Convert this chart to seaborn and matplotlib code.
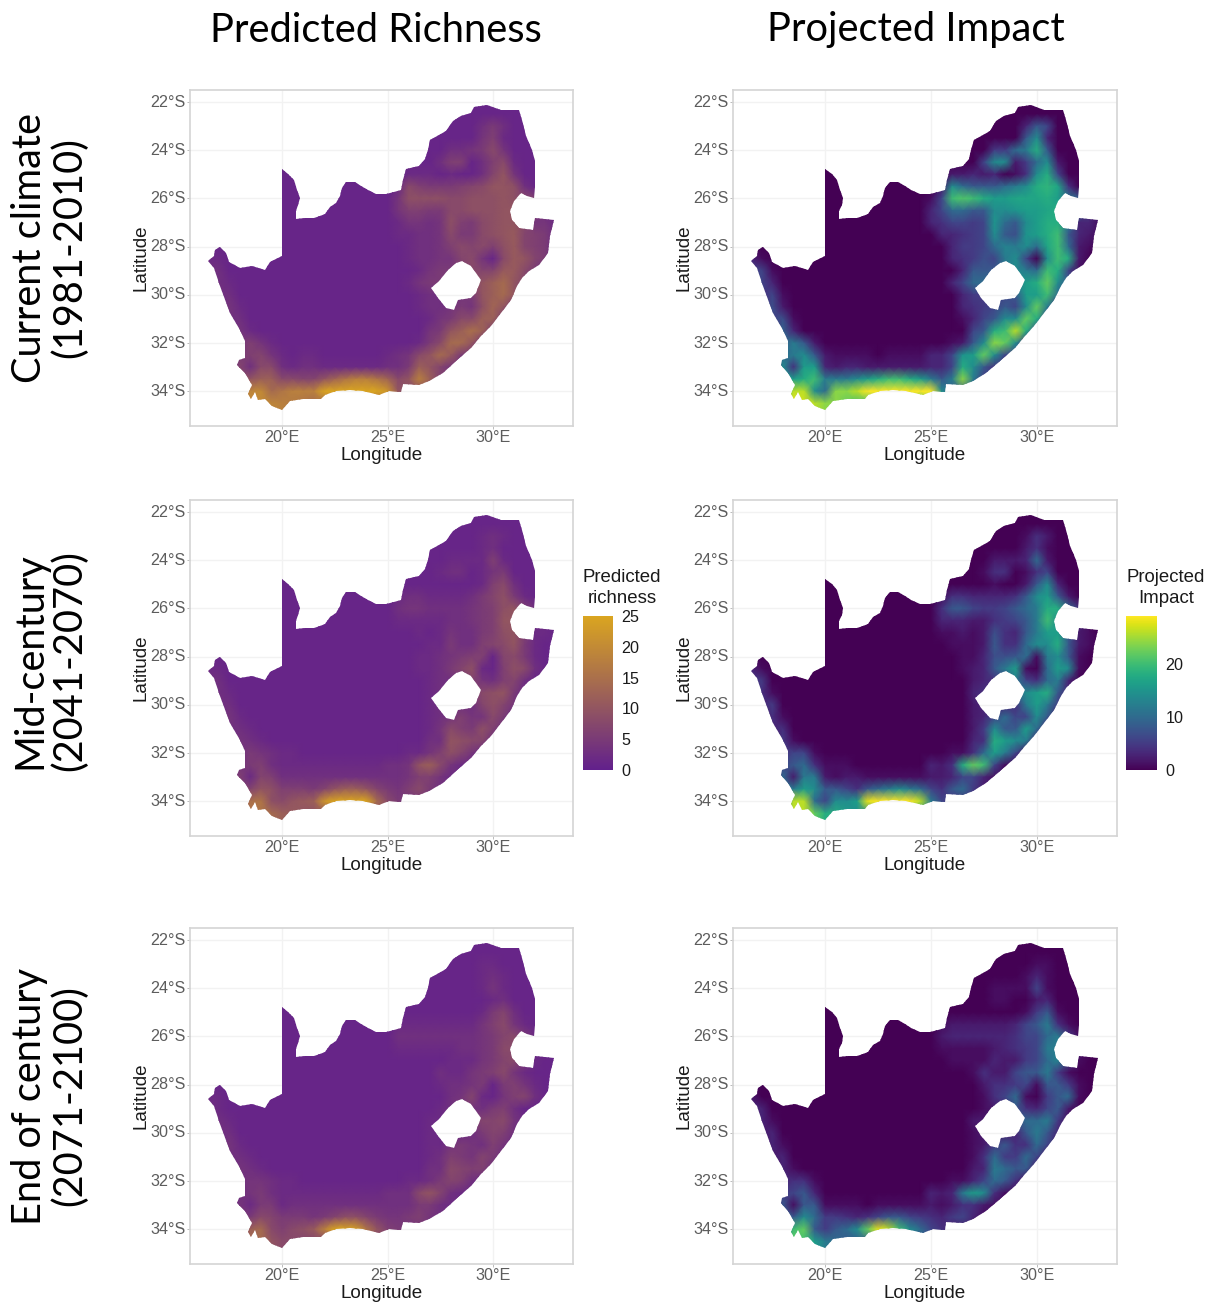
import matplotlib.pyplot as plt
import numpy as np
import pandas as pd
import seaborn as sns
from matplotlib.colors import LinearSegmentedColormap
from matplotlib.path import Path

W, H = 1219, 1303

lon_ticks = [20, 25, 30]
lat_ticks = [22, 24, 26, 28, 30, 32, 34]
grid_lons = [16.5 + 0.5 * i for i in range(34)]
grid_lats = [-22 - 0.5 * i for i in range(27)]

border_lon = [20.00, 20.30, 20.57, 20.72, 20.86, 20.77, 20.66, 20.66, 21.08, 21.51, 21.79, 22.03, 22.26, 22.58, 22.74,
              22.83, 23.05, 23.44, 23.76, 24.07, 24.47, 24.94, 25.33, 25.64, 25.75, 25.88, 26.51, 26.79, 26.90, 27.01,
              27.45, 27.77, 28.08, 28.47, 28.95, 29.10, 29.73, 30.36, 31.23, 31.38, 31.57, 31.86, 31.98, 32.01, 31.93,
              31.62, 31.31, 30.99, 30.80, 30.91, 31.23, 31.89, 32.01, 32.88, 32.72, 32.61, 32.17, 31.70, 31.38, 31.15,
              30.83, 30.36, 29.89, 29.42, 28.95, 28.24, 27.61, 26.98, 26.51, 25.72, 25.64, 25.09, 24.62, 23.84, 23.21,
              22.58, 22.03, 21.87, 21.01, 20.38, 19.98, 19.51, 19.20, 18.88, 18.73, 18.52, 18.40, 18.57, 18.25, 17.89,
              17.94, 18.25, 18.25, 18.02, 17.55, 17.08, 16.76, 16.48, 16.79, 16.84, 17.08, 17.36, 17.47, 18.02, 18.57,
              19.20, 19.43, 20.00]
border_lat = [-24.78, -24.97, -25.25, -25.64, -25.98, -26.26, -26.53, -26.85, -26.80, -26.81, -26.71, -26.63, -26.35,
              -26.19, -25.91, -25.57, -25.32, -25.30, -25.47, -25.66, -25.80, -25.80, -25.75, -25.64, -25.22, -24.78,
              -24.64, -24.36, -23.98, -23.56, -23.35, -23.22, -22.80, -22.57, -22.46, -22.21, -22.12, -22.35, -22.32,
              -22.73, -23.42, -23.98, -24.46, -25.50, -25.98, -25.88, -25.77, -26.12, -26.53, -26.88, -27.22, -27.29,
              -26.81, -26.88, -27.57, -28.26, -28.75, -29.02, -29.30, -29.64, -30.20, -30.75, -31.30, -31.72, -32.20,
              -32.75, -33.24, -33.58, -33.72, -33.68, -34.02, -34.00, -34.16, -34.00, -33.93, -34.00, -34.14, -34.34,
              -34.34, -34.41, -34.79, -34.62, -34.34, -34.37, -34.05, -34.34, -34.10, -33.72, -33.24, -32.89, -32.71,
              -32.62, -31.92, -31.44, -30.75, -29.64, -28.88, -28.61, -28.40, -28.12, -28.03, -28.26, -28.65, -28.88,
              -28.81, -28.95, -28.65, -28.40]
lesotho_lon = [28.55, 28.95, 29.42, 29.18, 28.95, 28.32, 28.16, 27.77, 27.37, 27.06, 27.45, 27.85, 28.24]
lesotho_lat = [-28.61, -28.81, -29.37, -29.92, -30.13, -30.22, -30.64, -30.54, -30.13, -29.71, -29.44, -28.95, -28.68]

# values per grid row, north to south, trailing ocean cells left out
richness_current = [
    [1], [1],
    [1]*26+[3,5,3,1],
    [1]*26+[4,6,2,1],
    [1]*23+[3,3,4,5,8,4,1],
    [1]*22+[3,6,6,1,3,6,8,2,1],
    [1]*18+[1,2,2,2,1,2,1,1,3,7,10,4,1],
    [1]*18+[2,8,6,5,5,5,6,7,8,10,10,9,3,1],
    [1]*18+[4,9,9,9,9,8,8,9,9,9,10,9,8,6,1],
    [1]*17+[1,4,6,6,5,5,8,8,9,9,9,10,10,10,6,2],
    [1]*17+[1,2,4,4,3,4,9,6,5,8,9,10,10,8,4,4,2],
    [1]*18+[2,2,3,3,4,8,5,5,8,9,10,11,7,6,5,2],
    [1]*19+[2,3,3,4,6,8,7,8,6,9,11,7,6,5,1],
    [2,2]+[1]*17+[2,3,3,4,4,7,8,4,1,8,11,10,7,5,2],
    [3,3,1]+[1]*17+[2,4,5,5,6,8,7,7,11,11,8,5,1],
    [3,3,2]+[1]*16+[2,4,5,5,5,7,8,10,12,14,10,7,1],
    [3,3,3,1]+[1]*16+[2,3,3,3,4,5,10,12,14,10,5],
    [2,2,4,2]+[1]*16+[2,3,3,4,5,4,9,13,10,4],
    [2,2,3,3,1]+[1]*15+[1,2,4,5,8,8,12,12,5],
    [1,1,2,4,2]+[1]*16+[4,5,10,12,15,12,5],
    [1,1,1,4,6,4,2]+[1]*12+[1,2,5,8,14,14,10,4],
    [1,1,1,5,6,7,4,2,1,2,2,1,1,1,1,1,1,2,3,4,8,10,14,11,5],
    [1,1,2,7,3,8,8,3,2,3,3,2,2,2,2,2,2,3,3,5,12,10,7,4],
    [1,1,3,8,10,12,12,8,8,7,7,10,13,16,18,18,16,13,8,10,18,12,6],
    [1,1,8,14,19,20,14,16,18,18,18,26,32,34,34,32,28,22,10,8],
    [1,1,8,14,20,20,19,18,17,16,14,14],
    [1,1,8,14,20,20,19,18,17,16,14,14],
]
richness_mid = [
    [1], [1],
    [1]*26+[2,3,2,1],
    [1]*26+[2,3,1],
    [1]*23+[2,2,2,2,6,2,1],
    [1]*22+[2,3,3,1,2,4,5,1],
    [1]*26+[2,6,8,3,1],
    [1]*18+[2,3,3,2,2,2,2,3,5,7,9,5,2,1],
    [1]*18+[3,4,4,3,3,3,3,4,5,6,9,10,6,3,1],
    [1]*18+[2,2,2,2,2,3,3,4,5,6,10,10,8,3,1],
    [1]*18+[1,1,2,1,2,4,3,3,5,6,9,10,6,2,2,1],
    [1]*19+[1,1,2,2,5,3,3,6,7,8,10,5,2,1],
    [1]*20+[2,2,3,4,5,6,6,1,7,8,5,2,1],
    [2,2]+[1]*18+[2,2,3,5,7,9,2,1,6,9,8,3,1],
    [3,3,1]+[1]*18+[2,3,3,4,7,4,3,6,7,3,1],
    [3,3,2]+[1]*18+[2,3,3,4,6,8,9,10,5,2],
    [3,3,3,1]+[1]*17+[2,3,3,3,3,7,9,7,4,1],
    [2,2,4,2]+[1]*17+[2,3,4,6,4,4,8,5,2],
    [2,2,3,3,2]+[1]*16+[2,4,8,6,5,9,6,3],
    [1,1,2,4,3,2]+[1]*15+[3,3,10,9,8,7,3],
    [1,1,1,3,5,4,3,2,2]+[1]*10+[2,2,4,6,9,7,4,2],
    [1,1,1,4,5,6,3,2,2,2,2,2,2,2,2,2,2,3,3,4,10,12,8,4,2],
    [1,1,2,6,2,7,6,3,3,3,3,3,3,3,3,3,3,3,3,4,6,6,4,2],
    [1,1,3,6,7,10,9,6,6,6,5,7,10,12,12,10,7,5,4,6,8,5,3],
    [1,1,6,9,15,16,9,8,10,11,12,22,30,32,30,26,14,8,5,4],
    [1,1,6,9,16,16,14,12,11,10,9,9],
    [1,1,6,9,16,16,14,12,11,10,9,9],
]
richness_end = [
    [1], [1],
    [1]*26+[2,2,1],
    [1]*26+[2,3,2,1],
    [1]*26+[2,4,2,1],
    [1]*27+[2,3,1],
    [1]*26+[2,5,7,3,1],
    [1]*18+[2,2,2,2,2,2,2,2,4,6,8,4,2,1],
    [1]*18+[3,3,3,3,3,3,3,3,4,5,7,8,5,2,1],
    [1]*18+[2,2,2,2,2,2,3,3,4,5,8,8,6,2,1],
    [1]*19+[1,1,1,1,2,2,2,4,5,7,8,5,2,1],
    [1]*21+[1,3,2,2,4,5,6,8,4,2,1],
    [1]*22+[2,3,3,4,5,1,5,6,4,2,1],
    [2,2]+[1]*20+[1,3,4,7,2,1,4,6,7,3,1],
    [3,2,1]+[1]*19+[2,3,6,4,3,5,6,3,1],
    [3,3,2]+[1]*18+[2,2,3,4,6,7,7,8,4,2],
    [2,3,3,1]+[1]*17+[2,2,2,2,3,5,7,6,3,1],
    [2,2,4,2]+[1]*17+[2,2,4,5,4,3,6,4,2],
    [2,2,3,3,2]+[1]*16+[2,3,6,5,4,7,5,3],
    [1,1,2,4,3,2]+[1]*15+[3,3,8,7,6,6,3],
    [1,1,1,3,4,4,3,2,2]+[1]*10+[2,2,3,5,7,6,3,2],
    [1,1,1,3,4,5,3,2,2,2,2,2,2,2,2,2,2,3,3,3,8,10,7,3,2],
    [1,1,2,4,2,5,5,2,3,3,3,3,3,3,3,3,3,3,3,3,5,5,3,2],
    [1,1,3,5,5,8,7,5,5,5,4,5,7,9,9,7,5,4,4,5,6,4,3],
    [1,1,5,7,12,14,8,6,8,9,11,18,28,28,24,16,10,6,5,4],
    [1,1,5,7,14,14,10,8,8,7,7,7],
    [1,1,5,7,14,14,10,8,8,7,7,7],
]
impact_current = [
    [0], [0],
    [0]*26+[3,8,6,0],
    [0]*26+[8,14,3,0],
    [0]*23+[5,5,10,12,18,8,0],
    [0]*22+[6,14,14,2,5,10,14,2,0],
    [0]*18+[1,2,2,3,2,3,0,1,4,14,18,6,0],
    [0]*18+[2,14,10,8,8,8,10,12,14,18,19,17,4,0],
    [0]*17+[1,6,20,21,20,18,16,16,17,17,17,18,16,12,8,0],
    [0]*17+[3,6,10,10,8,8,14,14,15,16,16,17,18,18,10,3],
    [0]*17+[3,4,6,6,5,6,15,10,8,14,16,18,18,12,3,3,1],
    [0]*18+[3,3,4,5,6,14,8,7,15,16,18,20,8,3,2,1],
    [0]*19+[3,5,5,6,10,13,12,14,10,17,20,10,2,1,0],
    [3,1]+[0]*17+[3,4,5,7,6,12,14,6,0,14,20,18,2,0],
    [5,6,1]+[0]*17+[3,8,8,8,10,14,12,10,20,18,6,1],
    [5,6,3]+[0]*16+[3,6,10,10,10,12,14,16,18,22,14,8,2],
    [4,4,6,1]+[0]*16+[3,5,5,5,6,8,16,16,20,10,4],
    [3,3,7,2]+[0]*16+[3,4,5,6,8,6,14,22,12,3],
    [2,2,6,7,1]+[0]*15+[1,3,6,8,14,14,22,18,6],
    [0,0,2,9,3]+[0]*16+[6,8,18,20,26,18,6],
    [0,0,1,8,12,8,2]+[0]*12+[1,2,8,14,24,22,14,4],
    [0,0,1,10,12,14,8,2,1,1,1,1,0,1,1,1,1,3,3,6,15,16,22,14,6],
    [0,0,2,14,4,16,16,3,2,3,3,2,2,2,2,2,2,3,3,6,18,14,8,4],
    [0,0,4,14,16,18,20,12,12,12,14,16,18,20,20,18,16,12,8,12,24,12,5],
    [0,0,10,20,26,26,14,10,24,24,26,34,38,38,38,38,36,32,14,8],
    [0,0,10,20,28,27,26,24,24,22,20,20],
    [0,0,10,20,28,27,26,24,24,22,20,20],
]
impact_mid = [
    [0], [0],
    [0]*26+[1,4,2,0],
    [0]*26+[2,4,1,0],
    [0]*23+[2,2,2,3,10,2,0],
    [0]*22+[1,4,4,0,1,4,6,0],
    [0]*18+[0,0,0,0,0,1,0,0,2,8,14,3,0],
    [0]*18+[1,4,4,3,3,3,3,4,8,14,16,8,2,0],
    [0]*18+[4,8,8,6,5,5,6,8,10,12,18,18,10,4,0],
    [0]*18+[3,3,3,2,2,4,5,6,8,12,20,14,8,4,0],
    [0]*18+[1,1,2,1,2,7,4,3,8,12,16,16,8,2,1,0],
    [0]*19+[1,1,1,2,8,4,4,10,14,14,18,8,2,1,0],
    [0]*20+[1,1,3,7,7,8,10,1,12,14,8,1,0],
    [3,1]+[0]*18+[1,2,3,8,12,16,1,0,10,16,14,1,0],
    [4,5,0]+[0]*18+[2,3,4,6,12,6,4,10,12,3,0],
    [3,4,1]+[0]*18+[3,4,4,6,10,14,16,18,8,3,0],
    [2,3,5,0]+[0]*17+[2,3,3,3,4,12,16,12,5,1],
    [1,1,4,1]+[0]*17+[2,3,6,10,6,6,14,8,2],
    [0,0,3,4]+[0]*17+[2,5,14,8,8,16,10,3],
    [0,0,1,5,1]+[0]*16+[3,4,18,16,14,12,3],
    [0,0,0,4,6,6,1]+[0]*12+[1,1,4,10,16,12,6,1],
    [0,0,0,6,8,10,4,1,1,1,0,0,0,0,0,0,0,3,2,4,18,22,20,6,1],
    [0,0,1,10,2,12,12,2,1,2,2,1,1,1,1,1,1,2,2,3,6,6,3,1],
    [0,0,2,10,12,16,14,8,8,6,4,8,10,12,14,12,10,6,4,8,10,5,2],
    [0,0,6,14,26,26,10,6,14,14,16,28,34,36,36,32,26,12,6,4],
    [0,0,6,14,26,26,22,18,18,16,14,14],
    [0,0,6,14,26,26,22,18,18,16,14,14],
]
impact_end = [
    [0], [0],
    [0]*27+[1,1,0],
    [0]*26+[1,3,1,0],
    [0]*23+[1,1,1,1,6,1,0],
    [0]*22+[0,1,1,0,0,2,3,0],
    [0]*26+[1,5,8,1,0],
    [0]*18+[1,2,2,2,2,2,2,3,6,8,12,4,1,0],
    [0]*18+[2,3,3,3,3,3,3,4,6,6,10,12,5,1,0],
    [0]*18+[1,1,1,1,1,2,3,4,5,6,12,12,8,2,0],
    [0]*19+[1,1,1,1,3,2,2,5,6,10,13,6,1,0],
    [0]*21+[1,4,2,2,6,8,8,12,5,1,0],
    [0]*22+[2,4,4,5,6,1,8,8,5,1,0],
    [2]+[0]*21+[1,4,6,10,1,0,5,8,10,1,0],
    [3,3]+[0]*20+[1,2,3,8,4,3,6,8,2,0],
    [2,3,1]+[0]*18+[2,2,3,5,8,10,10,12,5,1],
    [1,2,3]+[0]*18+[1,2,2,2,3,8,12,8,3,1],
    [0,1,3,1]+[0]*17+[1,2,5,8,4,4,10,6,2],
    [0,0,2,3]+[0]*17+[1,4,10,5,5,10,6,2],
    [0,0,1,3,1]+[0]*16+[2,3,12,10,8,8,2],
    [0,0,0,3,4,4,1]+[0]*12+[1,1,3,6,10,8,4,1],
    [0,0,0,5,6,8,3]+[0]*10+[3,2,3,12,16,14,4,1],
    [0,0,1,8,1,8,8,1,1,1,1,0,1,1,1,1,1,2,1,2,4,4,2,1],
    [0,0,2,8,8,14,10,5,5,4,3,4,6,8,8,6,5,4,3,5,6,3,1],
    [0,0,5,10,20,22,8,5,8,10,14,22,28,26,20,14,10,6,4,2],
    [0,0,5,10,22,20,16,12,10,8,8,8],
    [0,0,5,10,22,20,16,12,10,8,8,8],
]

richness_ticks = [0, 5, 10, 15, 20, 25]
impact_ticks = [0, 10, 20]
richness_max = 25
impact_max = 29
column_titles = ["Predicted Richness", "Projected Impact"]
row_titles = ["Current climate\n(1981-2010)", "Mid-century\n(2041-2070)", "End of century\n(2071-2100)"]

sns.set_style("white")
plt.rcParams["font.family"] = ["Liberation Sans", "DejaVu Sans"]

richness_cmap = LinearSegmentedColormap.from_list("richness", ["#62208C", "#DAA520"])


def lon_pos(lon):
    return (np.asarray(lon) - grid_lons[0]) / 0.5


def lat_pos(lat):
    return (grid_lats[0] - np.asarray(lat)) / 0.5


def make_frame(rows):
    full = [(r + [r[-1]] * 34)[:34] for r in rows]
    return pd.DataFrame(full, index=grid_lats, columns=grid_lons)


def px_axes(fig, x0, y0, x1, y1):
    return fig.add_axes([x0 / W, 1 - y1 / H, (x1 - x0) / W, (y1 - y0) / H])


def land_path():
    outer = np.column_stack([lon_pos(border_lon), lat_pos(border_lat)])
    hole = np.column_stack([lon_pos(lesotho_lon), lat_pos(lesotho_lat)])[::-1]
    return Path.make_compound_path(Path(np.vstack([outer, outer[:1]]), closed=True),
                                   Path(np.vstack([hole, hole[:1]]), closed=True))


def draw_map(fig, box, rows, cmap, vmax, cbar_box=None, ticks=None):
    ax = px_axes(fig, *box)
    cax = px_axes(fig, *cbar_box) if cbar_box else None
    sns.heatmap(make_frame(rows), ax=ax, cmap=cmap, vmin=0, vmax=vmax, cbar=cax is not None, cbar_ax=cax,
                shading="gouraud")
    mesh = ax.collections[0]
    mesh.set_clip_path(land_path(), transform=ax.transData)

    ax.set_xlim(lon_pos(15.64), lon_pos(33.79))
    ax.set_ylim(lat_pos(-35.44), lat_pos(-21.5))
    ax.set_xticks(lon_pos(lon_ticks))
    ax.set_xticklabels([f"{v}°E" for v in lon_ticks])
    ax.set_yticks(lat_pos([-v for v in lat_ticks]))
    ax.set_yticklabels([f"{v}°S" for v in lat_ticks])
    ax.tick_params(axis="both", labelsize=11.6, labelcolor="#5c5c5c", color="#bbbbbb", length=2, width=0.7,
                   pad=1, bottom=True, left=True, labelrotation=0)
    ax.set_xlabel("Longitude", fontsize=13.6, color="#1a1a1a", labelpad=1.5)
    ax.set_ylabel("Latitude", fontsize=13.6, color="#1a1a1a", labelpad=1)
    ax.grid(True, color="#f2f2f2", linewidth=1.0)
    ax.set_axisbelow(True)
    for spine in ax.spines.values():
        spine.set_visible(True)
        spine.set_color("#d4d4d4")
        spine.set_linewidth(1.2)

    if cax is not None:
        cax.set_yticks(ticks)
        cax.set_yticklabels([str(t) for t in ticks])
        cax.tick_params(axis="y", labelsize=11.6, labelcolor="#1a1a1a", direction="in", color="white", length=5,
                        width=0.5, pad=6, left=True, right=True)
    return ax


fig = plt.figure(figsize=(W / 100, H / 100), dpi=100)

row_boxes = [(90, 426), (500, 836), (928, 1264)]
richness_rows = [richness_current, richness_mid, richness_end]
impact_rows = [impact_current, impact_mid, impact_end]
for i, (top, bottom) in enumerate(row_boxes):
    has_bar = i == 1
    draw_map(fig, (190, top, 573, bottom), richness_rows[i], richness_cmap, richness_max,
             (583, 616, 613, 770) if has_bar else None, richness_ticks)
    draw_map(fig, (733, top, 1117, bottom), impact_rows[i], "viridis", impact_max,
             (1126, 616, 1157, 770) if has_bar else None, impact_ticks)

fig.text(622 / W, 1 - 588 / H, "Predicted\nrichness", fontsize=13.4, color="#1a1a1a", ha="center", va="center",
         linespacing=1.3)
fig.text(1166 / W, 1 - 588 / H, "Projected\nImpact", fontsize=13.4, color="#1a1a1a", ha="center", va="center",
         linespacing=1.3)

for title, x in zip(column_titles, [376, 916]):
    fig.text(x / W, 1 - 30 / H, title, fontsize=28.7, family=["Lato", "DejaVu Sans"], color="black",
             ha="center", va="center")
for title, y in zip(row_titles, [248, 661, 1096]):
    fig.text(50 / W, 1 - y / H, title, fontsize=28.6, family=["Lato", "DejaVu Sans"], color="black", rotation=90,
             ha="center", va="center", linespacing=1.08, multialignment="center")

fig.savefig("out.png", dpi=100)
